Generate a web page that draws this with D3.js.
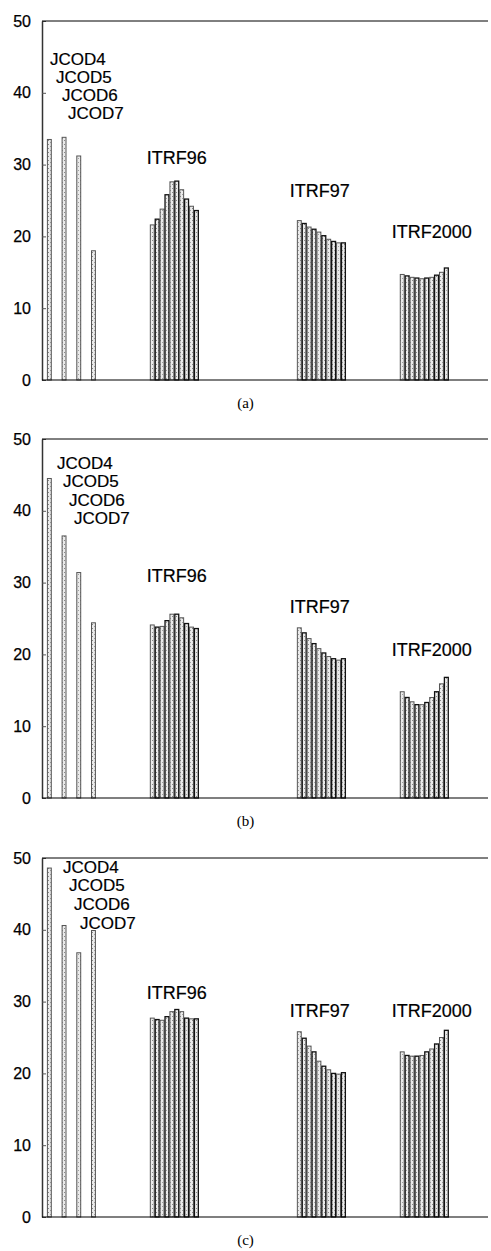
<!DOCTYPE html>
<html><head><meta charset="utf-8">
<script src="https://cdn.jsdelivr.net/npm/d3@7"></script>
<style>body{margin:0;background:#fff}svg{display:block}</style>
</head><body><svg id="chart" width="491" height="1251"></svg>
<script>
// ---------- data ----------
const yTicks = [0, 10, 20, 30, 40, 50];
const jcodNames = ["JCOD4", "JCOD5", "JCOD6", "JCOD7"];
const groupNames = ["ITRF96", "ITRF97", "ITRF2000"];
const panelNames = ["(a)", "(b)", "(c)"];

const jcodA = [33.5, 33.8, 31.2, 18.0];
const itrf96A = [21.6, 22.4, 23.8, 25.8, 27.6, 27.7, 26.5, 25.2, 24.2, 23.6];
const itrf97A = [22.2, 21.8, 21.3, 21.0, 20.6, 20.1, 19.6, 19.3, 19.1, 19.1];
const itrf2000A = [14.7, 14.5, 14.3, 14.2, 14.1, 14.2, 14.3, 14.6, 15.0, 15.6];

const jcodB = [44.5, 36.5, 31.4, 24.4];
const itrf96B = [24.1, 23.8, 23.9, 24.7, 25.6, 25.6, 25.1, 24.3, 23.8, 23.6];
const itrf97B = [23.7, 23.0, 22.2, 21.5, 20.8, 20.2, 19.7, 19.4, 19.2, 19.4];
const itrf2000B = [14.8, 14.0, 13.4, 13.0, 13.0, 13.3, 14.0, 14.8, 15.9, 16.8];

const jcodC = [48.6, 40.6, 36.8, 39.9];
const itrf96C = [27.7, 27.5, 27.4, 27.9, 28.6, 28.9, 28.6, 27.7, 27.6, 27.6];
const itrf97C = [25.8, 24.9, 23.8, 23.0, 21.7, 21.0, 20.5, 20.0, 19.9, 20.1];
const itrf2000C = [23.0, 22.5, 22.4, 22.4, 22.5, 23.0, 23.4, 24.1, 25.0, 26.0];

const panels = [
  { name: panelNames[0], jcod: jcodA, groups: [itrf96A, itrf97A, itrf2000A] },
  { name: panelNames[1], jcod: jcodB, groups: [itrf96B, itrf97B, itrf2000B] },
  { name: panelNames[2], jcod: jcodC, groups: [itrf96C, itrf97C, itrf2000C] }
];

// ---------- layout ----------
const W = 491;
const left = 42, right = 488, plotH = 359;
const panelTops = [21, 439, 858];
const jcodSlots = [1, 4, 7, 10];
const groupStarts = [22, 52, 73];
const jcodLabelLayout = [
  { y: [44.7, 42.2, 39.7, 37.2], x: [50, 56, 62, 68] },
  { y: [46.7, 44.1, 41.5, 39.0], x: [57, 63, 69, 74] },
  { y: [48.8, 46.2, 43.6, 41.0], x: [63, 69, 74, 80] }
];
const groupLabelLayout = [
  [31.0, 26.3, 20.6],
  [31.0, 26.6, 20.7],
  [31.2, 28.8, 28.8]
];
const groupLabelDx = [-3, -7, -8];

const svg = d3.select("#chart");
const defs = svg.append("defs");
const pat = defs.append("pattern").attr("id", "stip")
  .attr("width", 4).attr("height", 4).attr("patternUnits", "userSpaceOnUse");
pat.append("rect").attr("width", 4).attr("height", 4).attr("fill", "#ebebeb");
pat.append("rect").attr("x", 0).attr("y", 0).attr("width", 1).attr("height", 1).attr("fill", "#888");
pat.append("rect").attr("x", 2).attr("y", 2).attr("width", 1).attr("height", 1).attr("fill", "#a0a0a0");

const x = d3.scaleLinear().domain([0, 91]).range([left, right]);
const bw = x(1) - x(0);
const sans = "Liberation Sans, Arial, Helvetica, sans-serif";

panels.forEach((p, pi) => {
  const top = panelTops[pi];
  const y = d3.scaleLinear().domain([0, 50]).range([top + plotH, top]);
  const g = svg.append("g");

  const bars = [];
  p.jcod.forEach((v, i) => bars.push({ idx: jcodSlots[i], v, alt: 0 }));
  p.groups.forEach((arr, gi) => arr.forEach((v, i) => bars.push({ idx: groupStarts[gi] + i, v, alt: i % 2 })));
  g.selectAll("rect.bar").data(bars).join("rect").attr("class", "bar")
    .attr("x", d => x(d.idx) + 0.5)
    .attr("y", d => y(d.v))
    .attr("width", bw - 1)
    .attr("height", d => y(0) - y(d.v))
    .attr("fill", "url(#stip)")
    .attr("stroke", d => d.alt ? "#111" : "#555")
    .attr("stroke-width", d => d.alt ? 1.3 : 1);

  const yAxis = d3.axisLeft(y).tickValues(yTicks).tickSize(-4).tickPadding(12).tickSizeOuter(0);
  const ag = g.append("g").attr("transform", `translate(${left},0)`).call(yAxis);
  ag.select(".domain").attr("stroke", "#333").attr("stroke-width", 1.5);
  ag.selectAll(".tick line").attr("stroke", "#555");
  ag.selectAll(".tick text").attr("font-family", sans)
    .attr("font-size", 16).attr("fill", "#000").attr("x", -11)
    .attr("stroke", "#000").attr("stroke-width", 0.25);

  g.append("line").attr("x1", left).attr("x2", right).attr("y1", y(50)).attr("y2", y(50))
    .attr("stroke", "#000").attr("stroke-width", 1);
  g.append("line").attr("x1", left).attr("x2", right).attr("y1", y(0)).attr("y2", y(0))
    .attr("stroke", "#000").attr("stroke-width", 1.2);

  const jl = jcodLabelLayout[pi];
  g.selectAll("text.jl").data(jcodNames).join("text").attr("class", "jl")
    .attr("x", (d, i) => jl.x[i]).attr("y", (d, i) => y(jl.y[i]))
    .attr("dy", "0.35em")
    .attr("font-family", sans).attr("font-size", 17)
    .attr("stroke", "#000").attr("stroke-width", 0.2)
    .text(d => d);

  g.selectAll("text.gl").data(groupNames).join("text").attr("class", "gl")
    .attr("x", (d, i) => x(groupStarts[i]) + groupLabelDx[i])
    .attr("y", (d, i) => y(groupLabelLayout[pi][i]))
    .attr("dy", "0.35em")
    .attr("font-family", sans).attr("font-size", 18)
    .attr("stroke", "#000").attr("stroke-width", 0.2)
    .text(d => d);

  g.append("text").attr("x", W / 2).attr("y", y(0) + 28).attr("text-anchor", "middle")
    .attr("font-family", "Liberation Serif, Times New Roman, serif").attr("font-size", 15)
    .text(p.name);
});
</script></body></html>
